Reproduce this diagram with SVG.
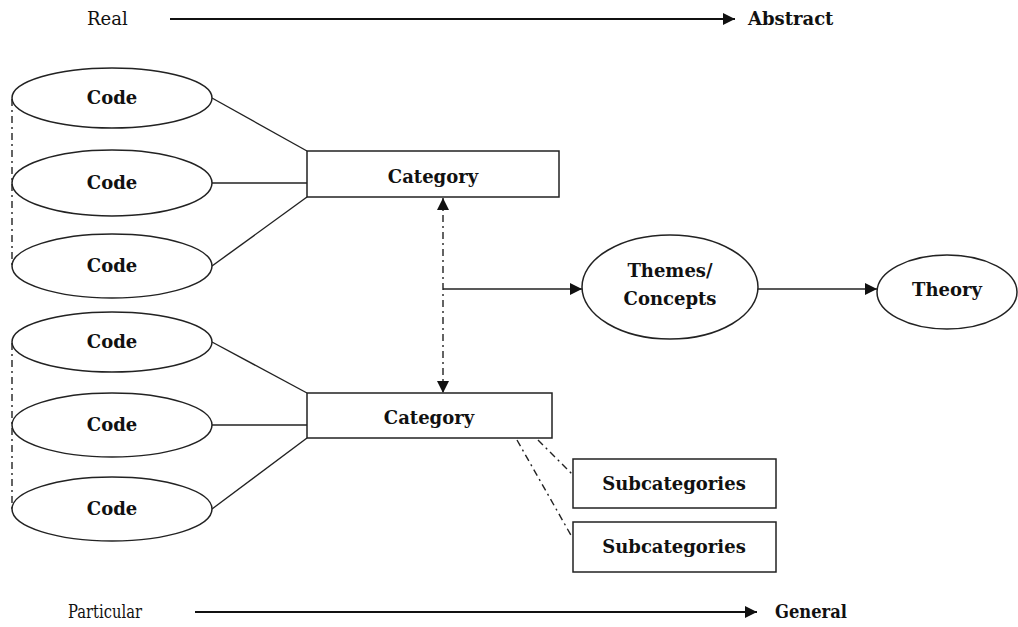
<svg xmlns="http://www.w3.org/2000/svg" width="1018" height="627" viewBox="0 0 1018 627">
<defs>
<marker id="ah" viewBox="0 0 10 10" refX="10" refY="5" markerWidth="12" markerHeight="12" markerUnits="userSpaceOnUse" orient="auto-start-reverse">
<path d="M0,0 L10,5 L0,10 z" fill="#111"/>
</marker>
<marker id="ahb" viewBox="0 0 10 10" refX="10" refY="5" markerWidth="12" markerHeight="12" markerUnits="userSpaceOnUse" orient="auto-start-reverse">
<path d="M0,0 L10,5 L0,10 z" fill="#111"/>
</marker>
</defs>
<style>
.shape{fill:#fff;stroke:#222;stroke-width:1.5}
.ln{fill:none;stroke:#222;stroke-width:1.4}
.dd{fill:none;stroke:#222;stroke-width:1.4;stroke-dasharray:7 4 2 4}
.axis{fill:none;stroke:#111;stroke-width:2.2}
.b{font-family:"DejaVu Serif","Liberation Serif",serif;font-weight:bold;font-size:18px;fill:#111;text-anchor:middle}
.r{font-family:"DejaVu Serif","Liberation Serif",serif;font-size:18px;fill:#111}
</style>
<rect width="1018" height="627" fill="#fff"/>
<g id="axis-top">
<text class="r" x="87" y="25">Real</text>
<line class="axis" x1="170" y1="19" x2="735" y2="19" marker-end="url(#ahb)"/>
<text class="b" x="748" y="25" style="text-anchor:start">Abstract</text>
</g>
<g id="axis-bottom">
<text class="r" x="68" y="618" textLength="74" lengthAdjust="spacingAndGlyphs">Particular</text>
<line class="axis" x1="195" y1="612" x2="757" y2="612" marker-end="url(#ahb)"/>
<text class="b" x="775" y="618" style="text-anchor:start" textLength="72" lengthAdjust="spacingAndGlyphs">General</text>
</g>
<g id="connectors">
<line class="dd" x1="12" y1="99" x2="12" y2="265"/>
<line class="dd" x1="12" y1="343" x2="12" y2="509"/>
<line class="ln" x1="212" y1="98" x2="307" y2="151"/>
<line class="ln" x1="212" y1="183" x2="307" y2="183"/>
<line class="ln" x1="212" y1="266" x2="307" y2="197"/>
<line class="ln" x1="212" y1="342" x2="307" y2="393"/>
<line class="ln" x1="212" y1="425" x2="307" y2="425"/>
<line class="ln" x1="212" y1="509" x2="307" y2="438"/>
<line class="dd" x1="443" y1="198" x2="443" y2="393" marker-start="url(#ah)" marker-end="url(#ah)"/>
<line class="ln" x1="443" y1="289" x2="582" y2="289" marker-end="url(#ah)"/>
<line class="ln" x1="758" y1="289" x2="877" y2="289" marker-end="url(#ah)"/>
<line class="dd" x1="538" y1="440" x2="572" y2="474"/>
<line class="dd" x1="517" y1="440" x2="572" y2="537"/>
</g>
<g id="code1"><ellipse class="shape" cx="112" cy="98" rx="100" ry="30"/><text class="b" x="112" y="104">Code</text></g>
<g id="code2"><ellipse class="shape" cx="112" cy="183" rx="100" ry="33"/><text class="b" x="112" y="189">Code</text></g>
<g id="code3"><ellipse class="shape" cx="112" cy="266" rx="100" ry="32"/><text class="b" x="112" y="272">Code</text></g>
<g id="code4"><ellipse class="shape" cx="112" cy="342" rx="100" ry="30"/><text class="b" x="112" y="348">Code</text></g>
<g id="code5"><ellipse class="shape" cx="112" cy="425" rx="100" ry="32"/><text class="b" x="112" y="431">Code</text></g>
<g id="code6"><ellipse class="shape" cx="112" cy="509" rx="100" ry="32"/><text class="b" x="112" y="515">Code</text></g>
<g id="category1"><rect class="shape" x="307" y="151" width="252" height="46"/><text class="b" x="433" y="183">Category</text></g>
<g id="category2"><rect class="shape" x="307" y="393" width="245" height="45"/><text class="b" x="429" y="424">Category</text></g>
<g id="themes"><ellipse class="shape" cx="670" cy="287" rx="88" ry="52"/><text class="b" x="670" y="277">Themes/</text><text class="b" x="670" y="305">Concepts</text></g>
<g id="theory"><ellipse class="shape" cx="947" cy="292" rx="70" ry="37"/><text class="b" x="947" y="296">Theory</text></g>
<g id="subcat1"><rect class="shape" x="573" y="459" width="203" height="49"/><text class="b" x="674" y="490">Subcategories</text></g>
<g id="subcat2"><rect class="shape" x="573" y="522" width="203" height="50"/><text class="b" x="674" y="553">Subcategories</text></g>
</svg>
